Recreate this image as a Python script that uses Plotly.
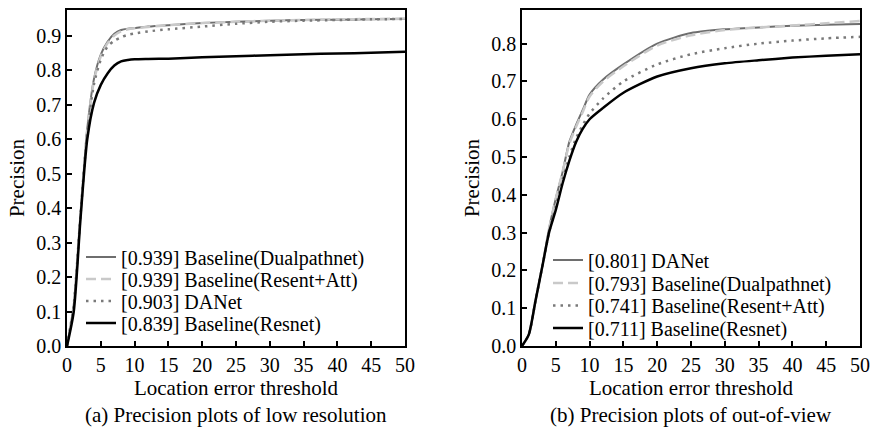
import plotly.graph_objects as go

THRESHOLDS = [0, 1, 2, 3, 4, 5, 6, 7, 8, 9, 10, 12, 15, 20, 25, 30, 35, 40, 45, 50]

# (a) low resolution
A_LABELS = ["[0.939] Baseline(Dualpathnet)", "[0.939] Baseline(Resent+Att)",
            "[0.903] DANet", "[0.839] Baseline(Resnet)"]
A_DUALPATH = [0, 0.12, 0.38, 0.63, 0.775, 0.845, 0.882, 0.905, 0.916, 0.920, 0.922,
              0.926, 0.930, 0.936, 0.940, 0.943, 0.945, 0.946, 0.947, 0.948]
A_RESATT = [0, 0.12, 0.38, 0.63, 0.770, 0.840, 0.878, 0.900, 0.912, 0.918, 0.921,
            0.925, 0.930, 0.936, 0.940, 0.943, 0.945, 0.947, 0.948, 0.949]
A_DANET = [0, 0.12, 0.38, 0.62, 0.760, 0.830, 0.868, 0.885, 0.895, 0.902, 0.906,
           0.912, 0.918, 0.926, 0.934, 0.940, 0.943, 0.945, 0.947, 0.948]
A_RESNET = [0, 0.10, 0.37, 0.60, 0.705, 0.757, 0.790, 0.813, 0.825, 0.829, 0.831,
            0.832, 0.833, 0.837, 0.840, 0.843, 0.846, 0.848, 0.850, 0.853]

# (b) out-of-view
B_LABELS = ["[0.801] DANet", "[0.793] Baseline(Dualpathnet)",
            "[0.741] Baseline(Resent+Att)", "[0.711] Baseline(Resnet)"]
B_DANET = [0, 0.03, 0.12, 0.21, 0.31, 0.39, 0.46, 0.54, 0.585, 0.625, 0.665,
           0.705, 0.745, 0.800, 0.828, 0.838, 0.843, 0.847, 0.850, 0.852]
B_DUALPATH = [0, 0.03, 0.12, 0.21, 0.31, 0.39, 0.46, 0.535, 0.580, 0.620, 0.660,
              0.700, 0.740, 0.795, 0.822, 0.836, 0.843, 0.848, 0.854, 0.860]
B_RESATT = [0, 0.03, 0.12, 0.21, 0.30, 0.37, 0.44, 0.50, 0.550, 0.585, 0.615,
            0.655, 0.700, 0.745, 0.772, 0.788, 0.800, 0.808, 0.814, 0.818]
B_RESNET = [0, 0.03, 0.12, 0.21, 0.30, 0.36, 0.43, 0.49, 0.540, 0.575, 0.600,
            0.630, 0.670, 0.713, 0.735, 0.748, 0.756, 0.763, 0.768, 0.772]

X_TICKS = [0, 5, 10, 15, 20, 25, 30, 35, 40, 45, 50]
CAPTIONS = ["(a) Precision plots of low resolution", "(b) Precision plots of out-of-view"]

FONT = "Liberation Serif"
TICK_FS = 20
FS = 21
LEG_FS = 20

STYLE_SOLID_GRAY = dict(color="#6e6e6e", width=2, dash="solid")
STYLE_DASH = dict(color="#c9c9c9", width=2.5, dash="10px,5px")
STYLE_DOT = dict(color="#7a7a7a", width=2.5, dash="2.5px,5px")
STYLE_BLACK = dict(color="#000000", width=2.5, dash="solid")

W, H = 873, 428
TOP, BOTTOM = 10, 346

fig = go.Figure()

def add(x, y, name, style, xa, ya, leg):
    fig.add_trace(go.Scatter(x=x, y=y, name=name, mode="lines",
                             line=dict(shape="spline", smoothing=0.7, **style),
                             xaxis=xa, yaxis=ya, legend=leg))

A_SERIES = [A_DUALPATH, A_RESATT, A_DANET, A_RESNET]
B_SERIES = [B_DANET, B_DUALPATH, B_RESATT, B_RESNET]
STYLES = [STYLE_SOLID_GRAY, STYLE_DASH, STYLE_DOT, STYLE_BLACK]

for i in range(4):
    add(THRESHOLDS, A_SERIES[i], A_LABELS[i], STYLES[i], "x", "y",
        "legend" if i == 0 else f"legend{i + 1}")
for i in range(4):
    add(THRESHOLDS, B_SERIES[i], B_LABELS[i], STYLES[i], "x2", "y2", f"legend{i + 5}")

axis_common = dict(showline=True, linecolor="black", linewidth=1.5, mirror=True,
                   ticks="inside", ticklen=5, tickwidth=1.5, tickcolor="black",
                   showgrid=False, zeroline=False, automargin=False,
                   tickfont=dict(family=FONT, size=TICK_FS, color="black"))

xcommon = dict(axis_common, range=[0, 50], tickvals=X_TICKS,
               title=dict(text="Location error threshold",
                          font=dict(family=FONT, size=FS, color="black"), standoff=4))
ycommon = dict(axis_common, dtick=0.1, tick0=0, tickformat=".1f",
               title=dict(text="Precision",
                          font=dict(family=FONT, size=FS, color="black"), standoff=6))

def px_to_paper_y(py):
    return (BOTTOM - py) / (BOTTOM - TOP)

leg_common = dict(xanchor="left", yanchor="middle", bgcolor="rgba(0,0,0,0)",
                  font=dict(family=FONT, size=LEG_FS, color="black"),
                  tracegroupgap=0, itemwidth=30, borderwidth=0)

A_ROWS = [257, 279, 301, 323]
B_ROWS = [260, 283, 305.5, 328]

legends = {}
for i, r in enumerate(A_ROWS):
    key = "legend" if i == 0 else f"legend{i + 1}"
    legends[key] = dict(leg_common, x=81 / W, y=px_to_paper_y(r))
for i, r in enumerate(B_ROWS):
    legends[f"legend{i + 5}"] = dict(leg_common, x=548 / W, y=px_to_paper_y(r))

fig.update_layout(
    template="none",
    width=W, height=H,
    margin=dict(l=0, r=0, t=TOP, b=H - BOTTOM, pad=0),
    paper_bgcolor="white", plot_bgcolor="white",
    xaxis=dict(xcommon, domain=[67 / W, 405 / W], anchor="y"),
    yaxis=dict(ycommon, range=[0, 0.974], anchor="x"),
    xaxis2=dict(xcommon, domain=[522 / W, 860 / W], anchor="y2"),
    yaxis2=dict(ycommon, range=[0, 0.889], anchor="x2"),
    showlegend=True,
    **legends,
)

for i, cap in enumerate(CAPTIONS):
    cx = (67 + 405) / 2 / W if i == 0 else (522 + 860) / 2 / W
    fig.add_annotation(text=cap, xref="paper", yref="paper", x=cx,
                       y=px_to_paper_y(415),
                       xanchor="center", yanchor="middle", showarrow=False,
                       font=dict(family=FONT, size=FS, color="black"))

fig.write_html("out.html", config={"displayModeBar": False},
               post_script="document.body.style.margin='0';")
